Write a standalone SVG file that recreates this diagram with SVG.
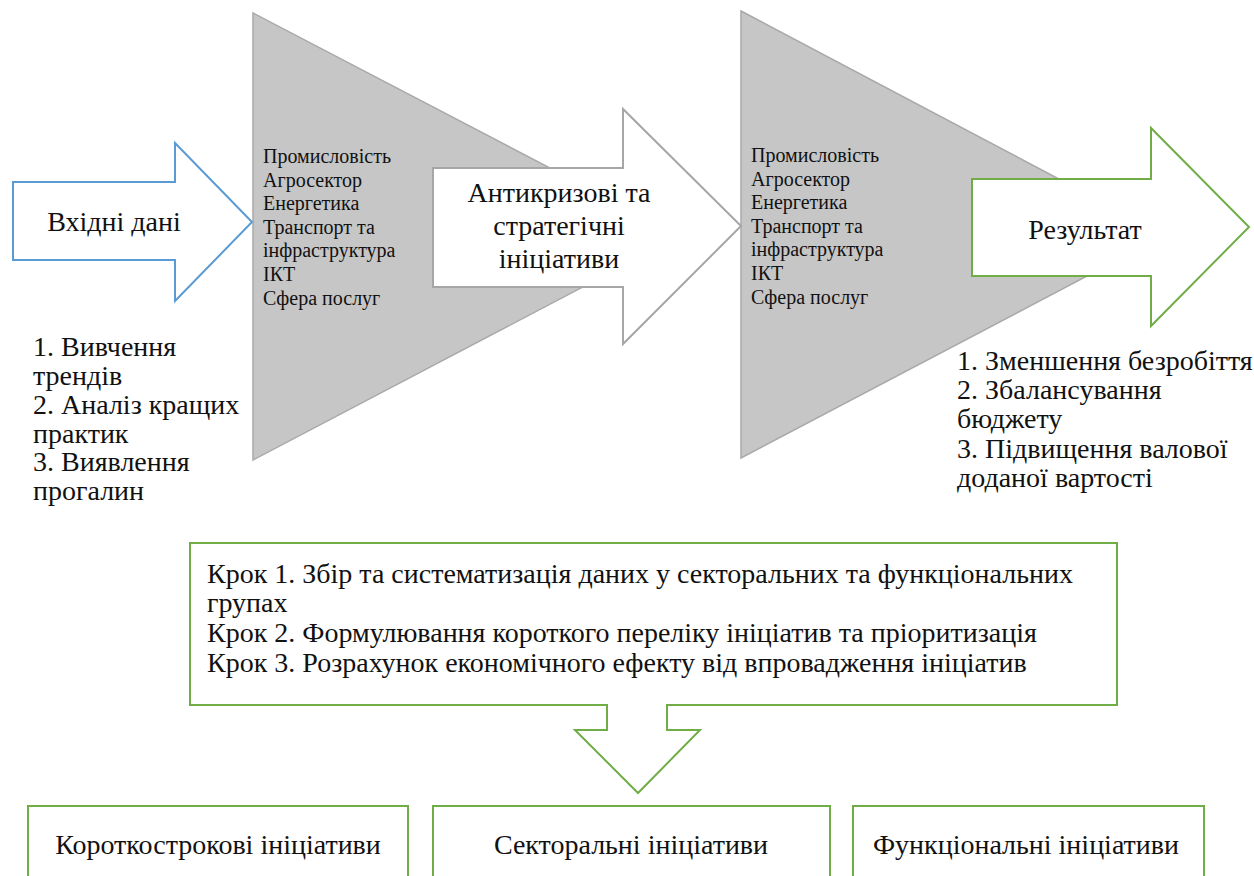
<svg xmlns="http://www.w3.org/2000/svg" width="1254" height="876" viewBox="0 0 1254 876">
<style>
.t{font-family:'Liberation Serif','Times New Roman',serif;fill:#111}
.big{font-size:28px}
.sm{font-size:20px}
.tri{fill:#c6c6c6;stroke:#a9a9a9;stroke-width:1.5}
.blue{fill:#fff;stroke:#5b9bd5;stroke-width:2}
.grey{fill:#fff;stroke:#a6a6a6;stroke-width:2}
.green{fill:#fff;stroke:#70ad47;stroke-width:2}
</style>
<rect width="1254" height="876" fill="#fff"/>
<g id="sectors1">
<polygon class="tri" points="253,13 680,236 253,460"/>
<text class="t sm"><tspan x="263" y="163">Промисловість</tspan><tspan x="263" y="187">Агросектор</tspan><tspan x="263" y="210">Енергетика</tspan><tspan x="263" y="234">Транспорт та</tspan><tspan x="263" y="257">інфраструктура</tspan><tspan x="263" y="281">ІКТ</tspan><tspan x="263" y="305">Сфера послуг</tspan></text>
</g>
<g id="input">
<polygon class="blue" points="13,182 175,182 175,143 252,222 175,301 175,260 13,260"/>
<text class="t big" x="114" y="231" text-anchor="middle">Вхідні дані</text>
</g>
<g id="input-list">
<text class="t big"><tspan x="33" y="356">1. Вивчення</tspan><tspan x="33" y="385">трендів</tspan><tspan x="33" y="414">2. Аналіз кращих</tspan><tspan x="33" y="443">практик</tspan><tspan x="33" y="471">3. Виявлення</tspan><tspan x="33" y="500">прогалин</tspan></text>
</g>
<g id="sectors2">
<polygon class="tri" points="741,11 1165,235 741,458"/>
<text class="t sm"><tspan x="751" y="162">Промисловість</tspan><tspan x="751" y="186">Агросектор</tspan><tspan x="751" y="209">Енергетика</tspan><tspan x="751" y="233">Транспорт та</tspan><tspan x="751" y="256">інфраструктура</tspan><tspan x="751" y="280">ІКТ</tspan><tspan x="751" y="304">Сфера послуг</tspan></text>
</g>
<g id="initiatives">
<polygon class="grey" points="433,168 623,168 623,109 741,226 623,344 623,287 433,287"/>
<text class="t big" text-anchor="middle"><tspan x="559" y="202">Антикризові та</tspan><tspan x="559" y="235">стратегічні</tspan><tspan x="559" y="268">ініціативи</tspan></text>
</g>
<g id="result">
<polygon class="green" points="972,179 1151,179 1151,128 1249,227 1151,326 1151,276 972,276"/>
<text class="t big" x="1085" y="239" text-anchor="middle">Результат</text>
</g>
<g id="result-list">
<text class="t big"><tspan x="957" y="370">1. Зменшення безробіття</tspan><tspan x="957" y="399">2. Збалансування</tspan><tspan x="957" y="428">бюджету</tspan><tspan x="957" y="458">3. Підвищення валової</tspan><tspan x="957" y="487">доданої вартості</tspan></text>
</g>
<g id="steps">
<polygon class="green" points="190,543 1117,543 1117,705 667,705 667,730 700,730 638,793 575,730 607,730 607,705 190,705"/>
<text class="t big"><tspan x="207" y="583">Крок 1. Збір та систематизація даних у секторальних та функціональних</tspan><tspan x="207" y="612">групах</tspan><tspan x="207" y="642">Крок 2. Формулювання короткого переліку ініціатив та пріоритизація</tspan><tspan x="207" y="672">Крок 3. Розрахунок економічного ефекту від впровадження ініціатив</tspan></text>
</g>
<g id="short-term">
<rect class="green" x="28" y="806" width="380" height="80"/>
<text class="t big" x="218" y="854" text-anchor="middle">Короткострокові ініціативи</text>
</g>
<g id="sectoral">
<rect class="green" x="433" y="806" width="397" height="80"/>
<text class="t big" x="631" y="854" text-anchor="middle">Секторальні ініціативи</text>
</g>
<g id="functional">
<rect class="green" x="853" y="806" width="351" height="80"/>
<text class="t big" x="1026" y="854" text-anchor="middle">Функціональні ініціативи</text>
</g>
<g id="connectors"></g>
</svg>
